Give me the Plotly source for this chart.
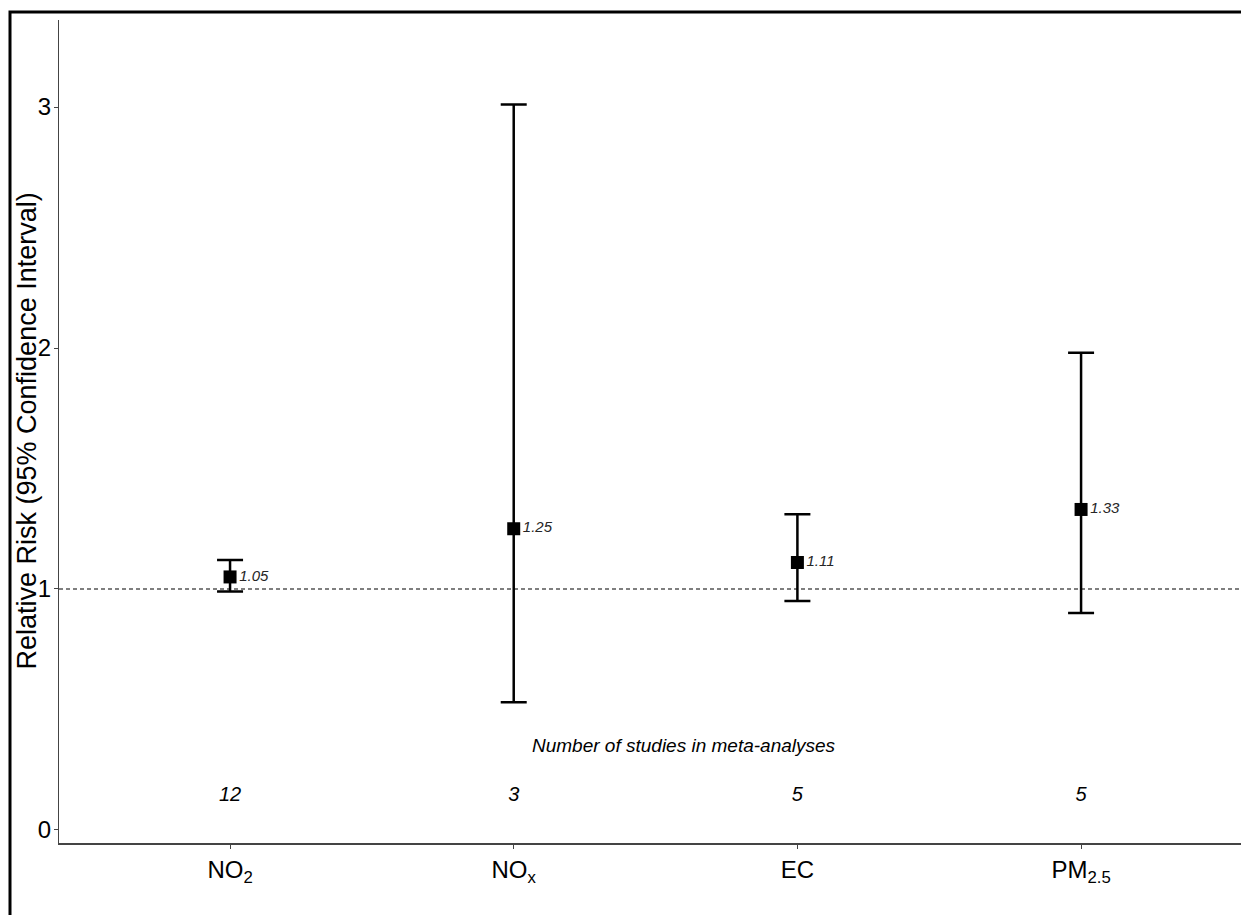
import plotly.graph_objects as go

categories = ["NO<sub>2</sub>", "NO<sub>x</sub>", "EC", "PM<sub>2.5</sub>"]
rr = [1.05, 1.25, 1.11, 1.33]
ci_low = [0.99, 0.53, 0.95, 0.90]
ci_high = [1.12, 3.01, 1.31, 1.98]
rr_labels = ["1.05", "1.25", "1.11", "1.33"]
n_studies = ["12", "3", "5", "5"]

xpos = [1, 2, 3, 4]
NARROW = "Liberation Sans Narrow, Arial Narrow, Liberation Sans, Arial"
REG = "Liberation Sans, Arial"

W, H = 1241, 907
ML, MT, MB, MR = 51, 12, 72, 0
PW, PH = W - ML - MR, H - MT - MB

fig = go.Figure()
fig.add_trace(go.Scatter(
    x=xpos, y=rr, mode="markers+text",
    marker=dict(symbol="square", size=13, color="black"),
    error_y=dict(type="data", symmetric=False,
                 array=[h - r for h, r in zip(ci_high, rr)],
                 arrayminus=[r - l for l, r in zip(ci_low, rr)],
                 color="black", thickness=2.5, width=13),
    text=rr_labels, textposition="middle right",
    textfont=dict(family=NARROW, size=15, color="#262626", style="italic"),
    showlegend=False, hoverinfo="skip"))

fig.add_trace(go.Scatter(
    x=xpos, y=[0.14] * 4, mode="text", text=n_studies,
    textfont=dict(family=NARROW, size=20, color="black", style="italic"),
    showlegend=False, hoverinfo="skip"))

fig.add_annotation(x=2.6, y=0.35, xref="x", yref="y", text="Number of studies in meta-analyses",
                   showarrow=False, font=dict(family=NARROW, size=19, color="black", style="italic"))

# y-axis title as rotated annotation
fig.add_annotation(x=(18 - ML) / PW, y=0.5, xref="paper", yref="paper",
                   xanchor="center", yanchor="middle",
                   text="Relative Risk (95% Confidence Interval)", textangle=-90,
                   showarrow=False, font=dict(family=REG, size=27, color="black"))

fig.add_shape(type="line", xref="paper", yref="y", x0=0, x1=1, y0=1, y1=1,
              line=dict(color="black", width=1.2, dash="4px,3px"))

fig.add_shape(type="rect", xref="paper", yref="paper",
              x0=(2 - ML) / PW, x1=(W + 20 - ML) / PW,
              y0=(H - MB - (H + 20)) / PH, y1=(H - MB - 4) / PH,
              line=dict(color="black", width=3), fillcolor="rgba(0,0,0,0)", layer="above")

fig.update_layout(
    width=W, height=H,
    margin=dict(l=ML, r=MR, t=MT, b=MB),
    paper_bgcolor="white", plot_bgcolor="white",
    xaxis=dict(range=[0.397, 4.592], tickvals=xpos, ticktext=categories,
               showgrid=False, zeroline=False, showline=True, linecolor="#444444", linewidth=1.5,
               ticks="outside", ticklen=4, tickcolor="#444444",
               tickfont=dict(family=NARROW, size=24, color="black")),
    yaxis=dict(range=[-0.054, 3.361], tickvals=[0, 1, 2, 3], ticktext=["0", "1", "2", "3"],
               showgrid=False, zeroline=False, showline=True, linecolor="#444444", linewidth=1.2,
               ticks="outside", ticklen=4, tickcolor="#444444", ticklabelstandoff=-2,
               tickfont=dict(family=NARROW, size=24, color="black")),
)

fig.write_html("out.html")
